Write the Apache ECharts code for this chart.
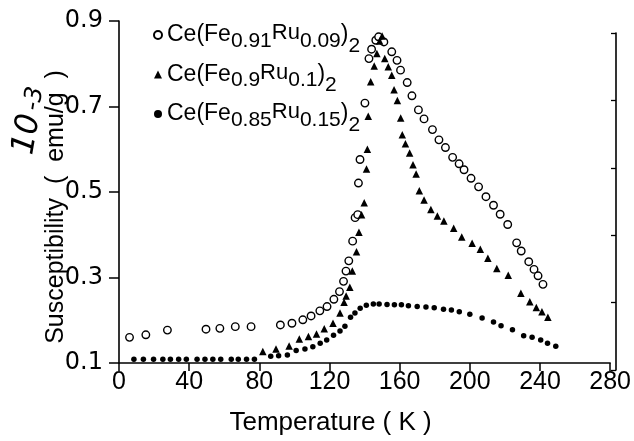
<!DOCTYPE html>
<html>
<head>
<meta charset="utf-8">
<script src="https://cdn.jsdelivr.net/npm/echarts@6/dist/echarts.min.js"></script>
<style>
html,body{margin:0;padding:0;background:#fff;}
#c{width:634px;height:441px;}
</style>
</head>
<body>
<div id="c"></div>
<script>
// ---- data ----
const seriesNames = ['Ce(Fe0.91Ru0.09)2', 'Ce(Fe0.9Ru0.1)2', 'Ce(Fe0.85Ru0.15)2'];
const xTicks = [0, 40, 80, 120, 160, 200, 240, 280];
const yTicks = [0.1, 0.3, 0.5, 0.7, 0.9];

// Ce(Fe0.91Ru0.09)2 : open circles
const circT = [6, 15.3, 27.6, 49.6, 57.5, 66.3, 75.3, 92, 98.6, 104.8, 109.5, 114.5, 118.6, 122.5, 125.7, 128, 129.4, 131, 133.2, 134.6, 136.1, 136.5, 137.4, 140.2, 142.5, 144, 146.4, 148, 151, 155.5, 158.5, 160.5, 164.3, 167, 170.7, 173.9, 178.7, 182.4, 186.1, 190.2, 193.9, 196.7, 200.7, 205, 209.2, 213.5, 217.3, 221.6, 226.7, 229.3, 233.6, 236.6, 238.9, 241.7];
const circV = [0.160, 0.166, 0.177, 0.179, 0.181, 0.185, 0.185, 0.189, 0.193, 0.201, 0.210, 0.222, 0.232, 0.249, 0.267, 0.291, 0.315, 0.339, 0.385, 0.440, 0.447, 0.521, 0.576, 0.708, 0.812, 0.834, 0.855, 0.863, 0.851, 0.828, 0.808, 0.785, 0.756, 0.725, 0.692, 0.671, 0.646, 0.622, 0.604, 0.581, 0.566, 0.552, 0.532, 0.512, 0.489, 0.469, 0.448, 0.424, 0.381, 0.362, 0.337, 0.319, 0.304, 0.284];

// Ce(Fe0.9Ru0.1)2 : filled triangles
const triT = [82, 89.5, 97, 102.8, 108, 112.6, 117, 122, 126, 128.3, 129.5, 131.6, 133, 135.4, 136.8, 138.3, 139.8, 141.1, 141.6, 142.1, 143.5, 145.5, 147, 148.6, 150, 151.5, 153.5, 155.5, 156.8, 158.7, 160.6, 161.5, 163.3, 165.7, 167.6, 169.4, 171.2, 173.9, 177.8, 181.5, 185.2, 190.8, 195.4, 201.3, 206, 210.3, 215.4, 221.9, 229.1, 234.2, 237.9, 241.1, 244.5];
const triV = [0.127, 0.133, 0.140, 0.156, 0.162, 0.168, 0.180, 0.193, 0.217, 0.242, 0.257, 0.277, 0.315, 0.360, 0.406, 0.447, 0.475, 0.554, 0.600, 0.677, 0.758, 0.795, 0.824, 0.853, 0.865, 0.812, 0.793, 0.773, 0.739, 0.714, 0.673, 0.634, 0.613, 0.591, 0.564, 0.542, 0.503, 0.481, 0.459, 0.444, 0.432, 0.415, 0.395, 0.380, 0.366, 0.345, 0.321, 0.305, 0.263, 0.243, 0.230, 0.220, 0.207];

// Ce(Fe0.85Ru0.15)2 : filled dots
const dotT = [8.5, 13.9, 19.7, 25, 29.3, 34, 38.4, 44.5, 49, 53.5, 58, 64, 68, 72.7, 77.2, 86.5, 91, 96, 101, 106, 110.5, 114.7, 118.4, 122.3, 126, 128.8, 132, 134.5, 137.5, 141, 145, 148.3, 152.8, 157, 161, 165, 170, 175, 179.7, 185, 189.5, 194, 200, 207, 213.5, 217.8, 224.3, 230.7, 235.5, 240.4, 244.3, 249];
const dotV = [0.109, 0.109, 0.109, 0.109, 0.109, 0.109, 0.109, 0.109, 0.109, 0.109, 0.109, 0.109, 0.109, 0.109, 0.109, 0.116, 0.117, 0.119, 0.129, 0.133, 0.138, 0.146, 0.154, 0.165, 0.175, 0.186, 0.207, 0.217, 0.228, 0.235, 0.238, 0.238, 0.237, 0.236, 0.236, 0.234, 0.232, 0.231, 0.229, 0.226, 0.224, 0.220, 0.214, 0.205, 0.196, 0.187, 0.178, 0.164, 0.160, 0.154, 0.146, 0.139];

// ---- build ----
const F = "'Liberation Sans', Arial, sans-serif";
const FD = "'DejaVu Sans', sans-serif";
const zip = (a, b) => a.map((v, i) => [v, b[i]]);

const legendRich = {
  '0': '{b|Ce(Fe}{s|0.91}{u|Ru}{s|0.09}{b|)}{t|2}',
  '1': '{b|Ce(Fe}{s|0.9}{u|Ru}{s|0.1}{b|)}{t|2}',
  '2': '{b|Ce(Fe}{s|0.85}{u|Ru}{s|0.15}{b|)}{t|2}'
};

const chart = echarts.init(document.getElementById('c'), null, {renderer: 'canvas'});
chart.setOption({
  backgroundColor: '#fff',
  animation: false,
  grid: [
    {left: 119, right: 17, top: 21, bottom: 77},
    {left: 616, right: 17, top: 33, bottom: 71}
  ],
  xAxis: [{
    type: 'value', gridIndex: 0, min: xTicks[0], max: xTicks[xTicks.length - 1], interval: 40,
    axisLine: {onZero: false, lineStyle: {color: '#000', width: 1.6}},
    axisTick: {inside: false, length: 8, lineStyle: {color: '#000', width: 1.5}},
    axisLabel: {color: '#000', fontSize: 25, fontFamily: F, margin: 7},
    splitLine: {show: false},
    name: 'Temperature ( K )', nameLocation: 'middle', nameGap: 47, nameMoveOverlap: false,
    nameTextStyle: {color: '#000', fontSize: 26, fontFamily: F, padding: [0, 68, 0, 0]}
  }, {
    type: 'value', gridIndex: 1, show: false, min: 0, max: 1
  }],
  yAxis: [{
    type: 'value', gridIndex: 0, min: yTicks[0], max: yTicks[yTicks.length - 1], interval: 0.2,
    axisLine: {lineStyle: {color: '#000', width: 1.6}},
    axisTick: {inside: false, length: 10, lineStyle: {color: '#000', width: 1.5}},
    axisLabel: {color: '#000', fontSize: 24, fontFamily: FD, margin: 16, formatter: v => v.toFixed(1)},
    splitLine: {show: false},
    name: 'Susceptibility  (  emu/g  )', nameLocation: 'middle', nameGap: 50, nameRotate: 90, nameMoveOverlap: false,
    nameTextStyle: {color: '#000', fontSize: 25, fontFamily: F, padding: [0, 30, 0, 0]}
  }, {
    type: 'value', gridIndex: 1, position: 'left', min: 0, max: 5, interval: 1,
    axisLine: {show: true, lineStyle: {color: '#000', width: 1.6}},
    axisTick: {show: true, inside: false, length: 5, lineStyle: {color: '#000', width: 1.3}},
    axisLabel: {show: false},
    splitLine: {show: false}
  }],
  legend: {
    orient: 'vertical', left: 148, top: 17, itemGap: 5,
    itemWidth: 8, itemHeight: 8,
    data: seriesNames,
    formatter: name => legendRich[seriesNames.indexOf(name)],
    textStyle: {
      color: '#000', fontFamily: F,
      rich: {
        b: {fontSize: 23, fontFamily: F, color: '#000'},
        s: {fontSize: 21, fontFamily: F, color: '#000', padding: [12, 0, 0, 0]},
        u: {fontSize: 22, fontFamily: F, color: '#000', padding: [0, 0, 4, 0]},
        t: {fontSize: 21, fontFamily: F, color: '#000', padding: [22, 0, 0, 0]}
      }
    }
  },
  graphic: [{
    type: 'text', left: 8, top: 84, rotation: 1.4,
    style: {
      text: '{a|10}{b|-3}',
      rich: {
        a: {fontSize: 32, fontStyle: 'italic', fontFamily: FD, fill: '#000'},
        b: {fontSize: 24, fontStyle: 'italic', fontFamily: FD, fill: '#000', padding: [2, 0, 0, 4]}
      }
    }
  }],
  series: [{
    name: seriesNames[0], type: 'scatter', xAxisIndex: 0, yAxisIndex: 0,
    symbol: 'circle', symbolSize: 7.5,
    itemStyle: {color: '#fff', borderColor: '#000', borderWidth: 1.4, opacity: 1},
    data: zip(circT, circV), z: 3
  }, {
    name: seriesNames[1], type: 'scatter', xAxisIndex: 0, yAxisIndex: 0,
    symbol: 'triangle', symbolSize: 7.5,
    itemStyle: {color: '#000', opacity: 1},
    data: zip(triT, triV), z: 4
  }, {
    name: seriesNames[2], type: 'scatter', xAxisIndex: 0, yAxisIndex: 0,
    symbol: 'circle', symbolSize: 5.5,
    itemStyle: {color: '#000', opacity: 1},
    data: zip(dotT, dotV), z: 5
  }]
});
</script>
</body>
</html>
